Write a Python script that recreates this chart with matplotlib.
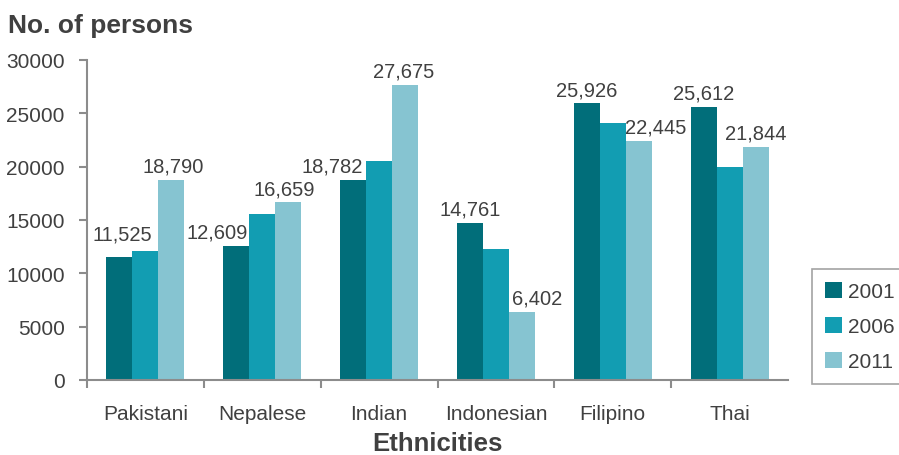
import numpy as np
import matplotlib
matplotlib.use("Agg")
import matplotlib.pyplot as plt
from matplotlib.ticker import FixedLocator, NullFormatter

plt.rcParams['font.family'] = ['Liberation Sans', 'DejaVu Sans']

# data
ethnicities = ['Pakistani', 'Nepalese', 'Indian', 'Indonesian', 'Filipino', 'Thai']
years = ['2001', '2006', '2011']
v2001 = [11525, 12609, 18782, 14761, 25926, 25612]
v2006 = [12100, 15600, 20500, 12300, 24100, 20000]   # unlabelled, estimated
v2011 = [18790, 16659, 27675, 6402, 22445, 21844]
yticks = [0, 5000, 10000, 15000, 20000, 25000, 30000]

colors = ['#016e7a', '#129db2', '#86c4d1']
txt = '#404040'
axcol = '#8c8c8c'

# label nudges in points (x, y) for 2001 and 2011 labels
nudge01 = [(2, 10), (-14, 3), (-15, 3), (0, 3), (0, 3), (0, 3)]
nudge11 = [(1, 3), (-3, 3), (-1, 3), (11, 3), (12, 3), (0, 3)]

fig = plt.figure(figsize=(8.99, 4.56), dpi=100)
ax = fig.add_axes([87/899, 1 - 381/456, (788 - 87)/899, (381 - 61)/456])

x = np.arange(len(ethnicities))
w = 0.223
series = [v2001, v2006, v2011]
bars = []
for i, (yr, vals) in enumerate(zip(years, series)):
    b = ax.bar(x + (i - 1) * w, vals, w, color=colors[i], label=yr, zorder=2)
    bars.append(b)

for j in range(len(ethnicities)):
    for k, nud in ((0, nudge01), (2, nudge11)):
        r = bars[k][j]
        dx, dy = nud[j]
        ax.annotate(f"{series[k][j]:,}", xy=(r.get_x() + r.get_width()/2, r.get_height()),
                    xytext=(dx, dy), textcoords='offset points',
                    ha='center', va='bottom', fontsize=14.5, color=txt)

ax.set_xlim(-0.5, 5.5)
ax.set_ylim(0, 30000)
ax.set_yticks(yticks)
ax.set_yticklabels([str(t) for t in yticks])
ax.set_xticks(x)
ax.set_xticklabels(ethnicities)
ax.xaxis.set_minor_locator(FixedLocator(np.arange(-0.5, 5.0, 1.0)))
ax.xaxis.set_minor_formatter(NullFormatter())
ax.tick_params(axis='x', which='major', length=0, pad=17, labelsize=15, labelcolor=txt)
ax.tick_params(axis='x', which='minor', length=6, width=1.5, color=axcol, direction='out')
ax.tick_params(axis='y', length=6, width=1.5, color=axcol, pad=10, labelsize=15, labelcolor=txt)

for s in ['top', 'right']:
    ax.spines[s].set_visible(False)
for s in ['left', 'bottom']:
    ax.spines[s].set_color(axcol)
    ax.spines[s].set_linewidth(1.5)

fig.text(8/899, 1 - 33/456, 'No. of persons', fontsize=19, fontweight='bold',
         color=txt, va='baseline', ha='left')
fig.text((87 + 788)/2/899, 1 - 451/456, 'Ethnicities', fontsize=18.5, fontweight='bold',
         color=txt, va='baseline', ha='center')

leg = ax.legend(loc='upper left', bbox_to_anchor=(812/899, 1 - 270/456),
                bbox_transform=fig.transFigure, frameon=True, fancybox=False,
                fontsize=15, handlelength=0.85, handleheight=0.85,
                handletextpad=0.3, labelspacing=0.75, borderpad=0.6,
                borderaxespad=0)
leg.get_frame().set_edgecolor(axcol)
leg.get_frame().set_linewidth(1.2)
for t in leg.get_texts():
    t.set_color(txt)

fig.savefig('out.png', dpi=100)
